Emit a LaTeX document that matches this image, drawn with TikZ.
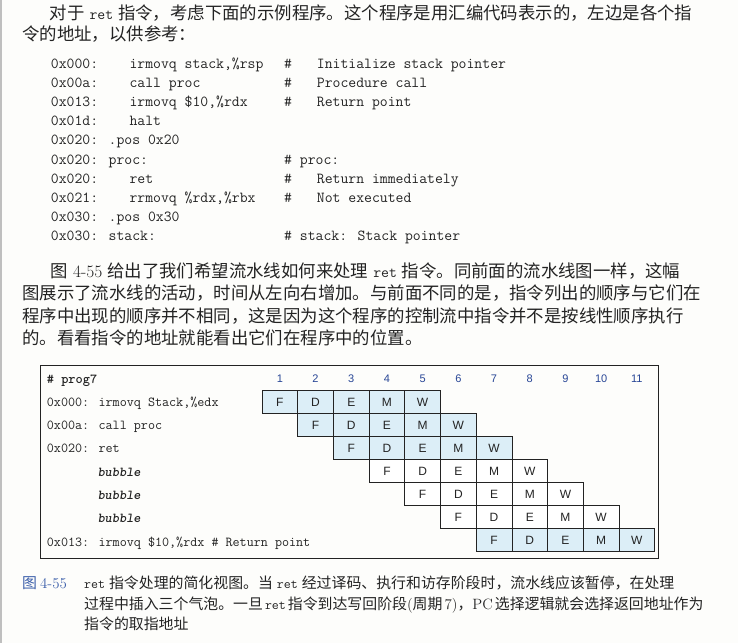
\documentclass[tikz,border=0pt]{standalone}
\usepackage{fontspec}
\newfontfamily\cjk{Noto Sans CJK SC}
\newfontfamily\hv{Liberation Sans}
\definecolor{cellblue}{RGB}{220,238,247}
\definecolor{numblue}{RGB}{40,70,150}
\definecolor{capblue}{RGB}{60,95,170}
\definecolor{ink}{RGB}{35,35,35}
\definecolor{paper}{RGB}{253,253,251}
\newcommand\rtt[1]{{\ttfamily\fontsize{15.3}{18}\selectfont #1}}
\newcommand\crtt[1]{{\ttfamily\fontsize{13.5}{16}\selectfont #1}}
\newcommand\lat[1]{{\rmfamily #1}}
\newcommand\zgap{\hspace{5pt}}
\begin{document}
\begin{tikzpicture}[x=1pt,y=-1pt,
  bodytxt/.style={anchor=base west, inner sep=0pt, text=ink, font=\cjk\fontsize{17.4}{20}\selectfont},
  codetxt/.style={anchor=base west, inner sep=0pt, text=ink, font=\ttfamily\fontsize{15.3}{18}\selectfont},
  labtxt/.style={anchor=base west, inner sep=0pt, text=ink, font=\ttfamily\fontsize{13.7}{16}\selectfont},
  bubtxt/.style={labtxt, font=\ttfamily\bfseries\slshape\fontsize{13.7}{16}\selectfont},
  cellbox/.style={draw=ink, line width=0.7pt, minimum width=35.7pt, minimum height=23pt, inner sep=0pt, text=ink, font=\hv\fontsize{12}{13}\selectfont},
  numtxt/.style={inner sep=0pt, text=numblue, font=\hv\fontsize{11}{13}\selectfont},
  captxt/.style={anchor=base west, inner sep=0pt, text=ink, font=\cjk\fontsize{14.9}{17}\selectfont},
  framebox/.style={draw=ink, line width=0.8pt}
]
\useasboundingbox (0,0) rectangle (738,643);
\fill[paper] (0,0) rectangle (738,643);
\fill[black!25] (0,0) rectangle (2,643);

% paragraph 1
\node[bodytxt] (p1a) at (49.5,19) {对于\zgap{}\rtt{ret}\zgap{}指令，考虑下面的示例程序。这个程序是用汇编代码表示的，左边是各个指};
\node[bodytxt] (p1b) at (22,40) {令的地址，以供参考：};

% code listing
\foreach \i/\a/\b/\h/\c in {
  0/0x000:/irmovq stack{,}\%rsp/\#/Initialize stack pointer,
  1/0x00a:/call proc/\#/Procedure call,
  2/0x013:/irmovq \$10{,}\%rdx/\#/Return point,
  3/0x01d:/halt//,
  6/0x020:/ret/\#/Return immediately,
  7/0x021:/rrmovq \%rdx{,}\%rbx/\#/Not executed} {
  \node[codetxt] (ca\i) at (50.7,{68+19.2*\i}) {\a};
  \node[codetxt] (cb\i) at (129.3,{68+19.2*\i}) {\b};
  \node[codetxt] (ch\i) at (284,{68+19.2*\i}) {\h};
  \node[codetxt] (cc\i) at (316.7,{68+19.2*\i}) {\c};
}
\node[codetxt] (ca4) at (50.7,{68+19.2*4}) {0x020: .pos 0x20};
\node[codetxt] (ca5) at (50.7,{68+19.2*5}) {0x020: proc:};
\node[codetxt] (ch5) at (284,{68+19.2*5}) {\# proc:};
\node[codetxt] (ca8) at (50.7,{68+19.2*8}) {0x030: .pos 0x30};
\node[codetxt] (ca9) at (50.7,{68+19.2*9}) {0x030: stack:};
\node[codetxt] (ch9) at (284,{68+19.2*9}) {\# stack: Stack pointer};

% paragraph 2
\node[bodytxt] (p2a) at (50.5,277) {图\zgap{}\lat{4-55}\zgap{}给出了我们希望流水线如何来处理\zgap{}\rtt{ret}\zgap{}指令。同前面的流水线图一样，这幅};
\node[bodytxt] (p2b) at (22,299.5) {图展示了流水线的活动，时间从左向右增加。与前面不同的是，指令列出的顺序与它们在};
\node[bodytxt] (p2c) at (22,322) {程序中出现的顺序并不相同，这是因为这个程序的控制流中指令并不是按线性顺序执行};
\node[bodytxt] (p2d) at (22,344.5) {的。看看指令的地址就能看出它们在程序中的位置。};

% figure frame
\draw[framebox] (40,365) rectangle (658,558);

% cycle numbers
\foreach \c in {1,...,11}
  \node[numtxt] (h\c) at ({262+(\c-1)*35.7+17.85},379) {\c};

% pipeline cells
\foreach \r/\fc in {1/cellblue,2/cellblue,3/cellblue,4/white,5/white,6/white,7/cellblue} {
  \foreach \s [count=\k from 0] in {F,D,E,M,W} {
    \node[cellbox, fill=\fc] (c\r-\k) at ({262+(\r+\k-1)*35.7+17.85},{390.5+(\r-1)*23+11.5}) {\s};
  }
}

% instruction labels
\node[labtxt, font=\ttfamily\bfseries\fontsize{13.7}{16}\selectfont] (l0) at (46.7,383) {\# prog7};
\node[labtxt] (l1) at (46.7,406.5) {0x000: irmovq Stack,\%edx};
\node[labtxt] (l2) at (46.7,429.5) {0x00a: call proc};
\node[labtxt] (l3) at (46.7,452.7) {0x020: ret};
\node[bubtxt] (l4) at (97.3,476) {bubble};
\node[bubtxt] (l5) at (97.3,499.3) {bubble};
\node[bubtxt] (l6) at (97.3,522.6) {bubble};
\node[labtxt] (l7) at (46.7,546) {0x013: irmovq \$10,\%rdx \# Return point};

% caption
\node[captxt] (cap0) at (22,588.6) {{\color{capblue}图\hspace{3pt}\lat{4-55}}};
\node[captxt] (cap1) at (84,588.6) {\crtt{ret}\hspace{4pt}指令处理的简化视图。当\hspace{4pt}\crtt{ret}\hspace{4pt}经过译码、执行和访存阶段时，流水线应该暂停，在处理};
\node[captxt] (cap2) at (84,609.2) {过程中插入三个气泡。一旦\hspace{2pt}\crtt{ret}\hspace{2pt}指令到达写回阶段\lat{(}周期\hspace{2pt}\lat{7)}，\lat{PC}\hspace{2pt}选择逻辑就会选择返回地址作为};
\node[captxt] (cap3) at (84,629.6) {指令的取指地址};
\end{tikzpicture}
\end{document}
